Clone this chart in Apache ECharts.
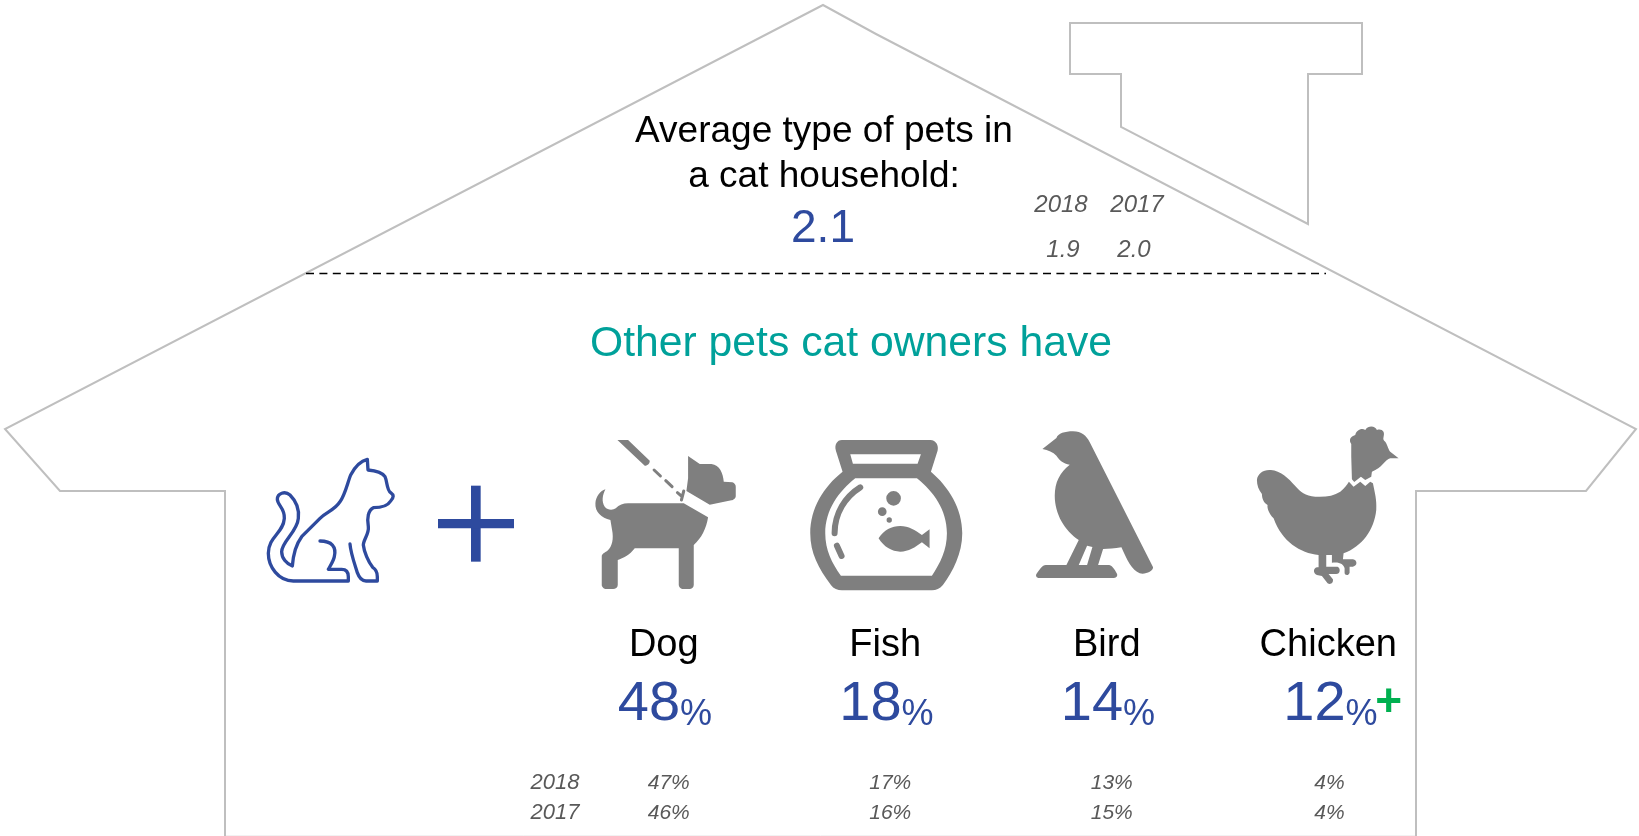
<!DOCTYPE html>
<html>
<head>
<meta charset="utf-8">
<title>Other pets cat owners have</title>
<style>
  html, body { margin: 0; padding: 0; background: #fff; }
  #chart { width: 1639px; height: 836px; }
</style>
<script src="https://cdn.jsdelivr.net/npm/echarts@6/dist/echarts.min.js"></script>
</head>
<body>
<div id="chart"></div>
<script>
// values
const categories = ['Dog', 'Fish', 'Bird', 'Chicken'];
const current = [48, 18, 14, 12];
const year2018 = [47, 17, 13, 4];
const year2017 = [46, 16, 15, 4];
const marks = ['', '', '', '+'];
const rowLabels = ['2018', '2017'];
const avgTitle = ['Average type of pets in', 'a cat household:'];
const avgCurrent = '2.1';
const avgYears = ['2018', '2017'];
const avgPast = ['1.9', '2.0'];
const subTitle = 'Other pets cat owners have';

const FONT = '"Liberation Sans", Arial, sans-serif';
const BLUE = '#2E4A9E';
const TEAL = '#00A19A';
const GREEN = '#00B050';
const GREY = '#7F7F7F';
const NOTE = '#595959';
const LINE = '#BFBFBF';

// icons are traced at 3x, dx is the offset from the category centre
const icons = {
  Dog: {
    dx: -424, dy: 420, lineWidth: 9,
    fill: 'M1133 60 L1165 60 L1230 122 C1230 130 1225 137 1215 137 Z ' +
      'M1345 108 L1380 132 L1415 132 C1440 135 1450 160 1452 185 L1478 187 C1485 190 1488 195 1488 200 L1488 228 C1488 236 1480 240 1475 241 L1410 254 L1340 213 L1345 175 Z ' +
      'M1332 250 L1405 292 C1400 325 1385 355 1362 375 L1362 495 C1362 503 1355 507 1350 507 L1328 507 C1322 507 1317 500 1317 495 L1317 385 L1185 385 C1170 405 1150 415 1134 420 L1134 495 C1134 503 1127 507 1120 507 L1098 507 C1092 507 1086 500 1086 495 L1086 410 C1086 400 1095 398 1103 392 C1118 380 1122 355 1117 330 L1112 300 C1085 295 1065 275 1067 250 C1068 230 1082 212 1097 208 C1088 225 1085 245 1095 260 C1105 272 1120 270 1128 265 C1138 255 1150 250 1165 250 Z',
    line: 'M1243 150 L1262 168 M1278 182 L1297 200 M1313 218 L1325 228 M1332 213 L1325 240'
  },
  Fish: {
    dx: -85, dy: 430, lineWidth: 18,
    fill: 'M125 30 L390 30 C408 30 416 48 412 62 L392 125 C445 170 486 235 486 310 C486 370 458 425 428 465 C418 476 408 481 395 481 L125 481 C112 481 100 476 92 465 C55 415 30 370 30 310 C30 235 70 170 127 125 L107 62 C102 45 110 30 125 30 Z ' +
      'M150 73 L158 101 L352 101 L362 73 Z ' +
      'M165 145 C115 185 75 240 75 310 C75 360 95 400 122 437 L395 437 C420 400 440 360 440 310 C440 240 400 185 350 145 Z ' +
      'M235 325 C250 300 275 288 300 288 C325 288 345 300 365 315 L388 298 L388 355 L365 337 C345 352 325 365 300 365 C275 365 250 350 235 325 Z ' +
      'M258 205 A22 22 0 1 1 302 205 A22 22 0 1 1 258 205 Z ' +
      'M233 245 A13 13 0 1 1 259 245 A13 13 0 1 1 233 245 Z ' +
      'M259 270 A8 8 0 1 1 275 270 A8 8 0 1 1 259 270 Z',
    line: 'M180 172 C135 200 103 250 103 310 M110 347 L124 378'
  },
  Bird: {
    dx: -77, dy: 424,
    fill: 'M38 75 L80 42 C85 28 105 22 130 22 C155 22 170 35 180 55 L370 430 C370 442 347 452 330 448 C307 440 290 405 275 370 C255 373 235 375 220 375 L205 423 L238 423 C245 423 255 435 262 450 C264 458 258 462 250 462 L28 462 C20 462 17 455 20 450 C28 438 38 423 48 423 L110 423 L147 348 C105 320 75 270 75 215 C75 175 90 145 120 122 C100 118 88 108 80 95 C70 85 55 78 38 75 Z ' +
      'M172 365 L147 423 L172 423 L188 369 Z'
  },
  Chicken: {
    dx: -78, dy: 420,
    fill: 'M20 180 C22 160 40 148 62 150 C90 152 115 175 135 198 C150 215 165 228 195 230 C225 232 250 228 270 215 C282 205 290 195 296 185 L310 200 L330 185 L345 198 L360 185 L368 190 C374 220 380 240 378 270 C372 330 335 380 280 400 L278 418 L308 418 C322 420 322 438 308 440 L298 440 L298 458 C295 468 283 466 283 458 L283 445 C280 432 268 425 245 428 L245 405 L228 405 L228 440 L262 440 C272 445 270 462 258 462 L235 462 L248 478 C250 490 240 495 232 490 L215 468 L200 465 C188 460 188 445 200 442 L205 442 L205 405 C150 400 95 365 70 295 C55 280 50 262 52 255 C40 248 35 235 35 222 C25 210 20 195 20 180 Z ' +
      'M303 72 C295 60 300 50 315 45 C318 30 335 22 345 30 C355 15 375 18 380 30 C395 25 405 35 400 50 C398 58 400 60 405 65 C412 75 415 90 420 95 L445 115 L420 115 C405 118 395 145 365 155 L363 170 L345 180 L332 170 L312 186 L305 178 L303 110 Z'
  }
};

const catPath = 'M240 363 C275 363 290 380 283 410 C280 425 270 438 265 448 L305 448 C320 448 325 458 325 470 L325 483 L160 483 C115 483 85 440 85 400 C85 350 130 340 133 295 C135 265 112 255 112 238 C112 220 135 212 150 225 C170 245 178 270 175 295 C172 335 125 365 125 395 C125 415 140 432 157 438 C160 400 170 370 185 350 L240 295 C260 275 285 270 300 245 C315 225 322 190 332 165 C345 140 365 122 382 118 L384 150 C405 152 425 155 435 170 C442 185 440 210 452 218 C462 225 462 232 452 243 C442 260 420 263 400 263 C385 270 380 295 385 320 C388 340 370 360 370 375 C372 395 385 425 398 442 C408 448 412 455 412 470 L412 483 L378 483 C365 483 358 475 352 458 C345 435 332 400 330 372';

function textEl(text, x, y, size, fill, extra) {
  return {
    type: 'text',
    style: Object.assign({
      text: text, x: x, y: y, fill: fill,
      fontSize: size, fontFamily: FONT,
      align: 'center', verticalAlign: 'middle'
    }, extra || {})
  };
}
const italic = { fontStyle: 'italic' };

function renderPet(params, api) {
  const i = api.value(0);
  const name = categories[i];
  const x = api.coord([i, 0])[0];
  const icon = icons[name];
  const iconKids = [{
    type: 'path',
    shape: { pathData: icon.fill },
    style: { fill: GREY }
  }];
  if (icon.line) {
    iconKids.push({
      type: 'path',
      shape: { pathData: icon.line },
      style: { fill: null, stroke: GREY, lineWidth: icon.lineWidth, lineCap: 'round' }
    });
  }
  // one digit values sit a little further right
  const noteLeft = x + (year2018[i] < 10 ? -14 : -16);
  const kids = [
    { type: 'group', x: x + icon.dx, y: icon.dy, scaleX: 1 / 3, scaleY: 1 / 3, children: iconKids },
    textEl(name, x, 646, 38, '#000'),
    textEl('{n|' + current[i] + '}{p|%}', x - (i === 3 ? 45 : 46), 703, 56, BLUE, {
      align: 'left',
      rich: {
        n: { fontSize: 56, fontFamily: FONT, fill: BLUE, verticalAlign: 'bottom', lineHeight: 60 },
        p: { fontSize: 36, fontFamily: FONT, fill: BLUE, verticalAlign: 'bottom', lineHeight: 48 }
      }
    }),
    textEl(year2018[i] + '%', noteLeft, 783, 21, NOTE, Object.assign({ align: 'left' }, italic)),
    textEl(year2017[i] + '%', noteLeft, 813, 21, NOTE, Object.assign({ align: 'left' }, italic))
  ];
  if (marks[i]) {
    kids.push(textEl(marks[i], x + 47, 703, 46, GREEN, { align: 'left', fontWeight: 'bold' }));
  }
  return { type: 'group', children: kids };
}

function renderCat() {
  return {
    type: 'group', x: 240, y: 420, scaleX: 1 / 3, scaleY: 1 / 3,
    children: [
      { type: 'path', shape: { pathData: catPath },
        style: { fill: null, stroke: BLUE, lineWidth: 10, lineJoin: 'round', lineCap: 'round' } },
      { type: 'rect', shape: { x: 693, y: 197, width: 29, height: 228 }, style: { fill: BLUE } },
      { type: 'rect', shape: { x: 594, y: 297, width: 228, height: 28 }, style: { fill: BLUE } }
    ]
  };
}

const chart = echarts.init(document.getElementById('chart'), null, { renderer: 'canvas' });
chart.setOption({
  animation: false,
  backgroundColor: '#fff',
  grid: { left: 553, width: 886, top: 0, height: 836 },
  xAxis: { type: 'category', data: categories, show: false },
  yAxis: { type: 'value', min: 0, max: 100, show: false },
  series: [{
    type: 'custom',
    clip: false,
    silent: true,
    encode: { x: 0, y: 1 },
    data: categories.map((c, i) => [c, current[i]]),
    renderItem: renderPet
  }, {
    type: 'custom',
    clip: false,
    silent: true,
    encode: { x: 0, y: 1 },
    data: [[categories[0], 0]],
    renderItem: renderCat
  }],
  graphic: [
    // floor, barely visible
    { type: 'line', shape: { x1: 226, y1: 835.5, x2: 1415, y2: 835.5 },
      style: { stroke: '#F2F2F2', lineWidth: 1 } },
    // house
    { type: 'polyline', shape: { points: [[225, 840], [225, 491], [60, 491], [5, 429], [823, 5], [876, 34], [1636, 429], [1586, 491], [1416, 491], [1416, 840]] },
      style: { fill: null, stroke: LINE, lineWidth: 2 } },
    // chimney
    { type: 'polygon', shape: { points: [[1070, 23], [1362, 23], [1362, 74], [1308, 74], [1308, 224], [1121, 127], [1121, 74], [1070, 74]] },
      style: { fill: null, stroke: LINE, lineWidth: 2 } },
    { type: 'line', shape: { x1: 306, y1: 273.5, x2: 1326, y2: 273.5 },
      style: { stroke: '#000', lineWidth: 1.6, lineDash: [8, 5.4] } },
    textEl(avgTitle[0], 824, 132, 37, '#000'),
    textEl(avgTitle[1], 824, 177, 37, '#000'),
    textEl(avgCurrent, 823, 229, 46, BLUE),
    textEl(avgYears[0], 1061, 205, 24, NOTE, italic),
    textEl(avgYears[1], 1137, 205, 24, NOTE, italic),
    textEl(avgPast[0], 1063, 250, 24, NOTE, italic),
    textEl(avgPast[1], 1134, 250, 24, NOTE, italic),
    textEl(subTitle, 851, 344, 42.7, TEAL),
    textEl(rowLabels[0], 555, 783, 22, NOTE, italic),
    textEl(rowLabels[1], 555, 813, 22, NOTE, italic)
  ]
});
window.addEventListener('resize', function () {
  chart.resize();
});
</script>
</body>
</html>
